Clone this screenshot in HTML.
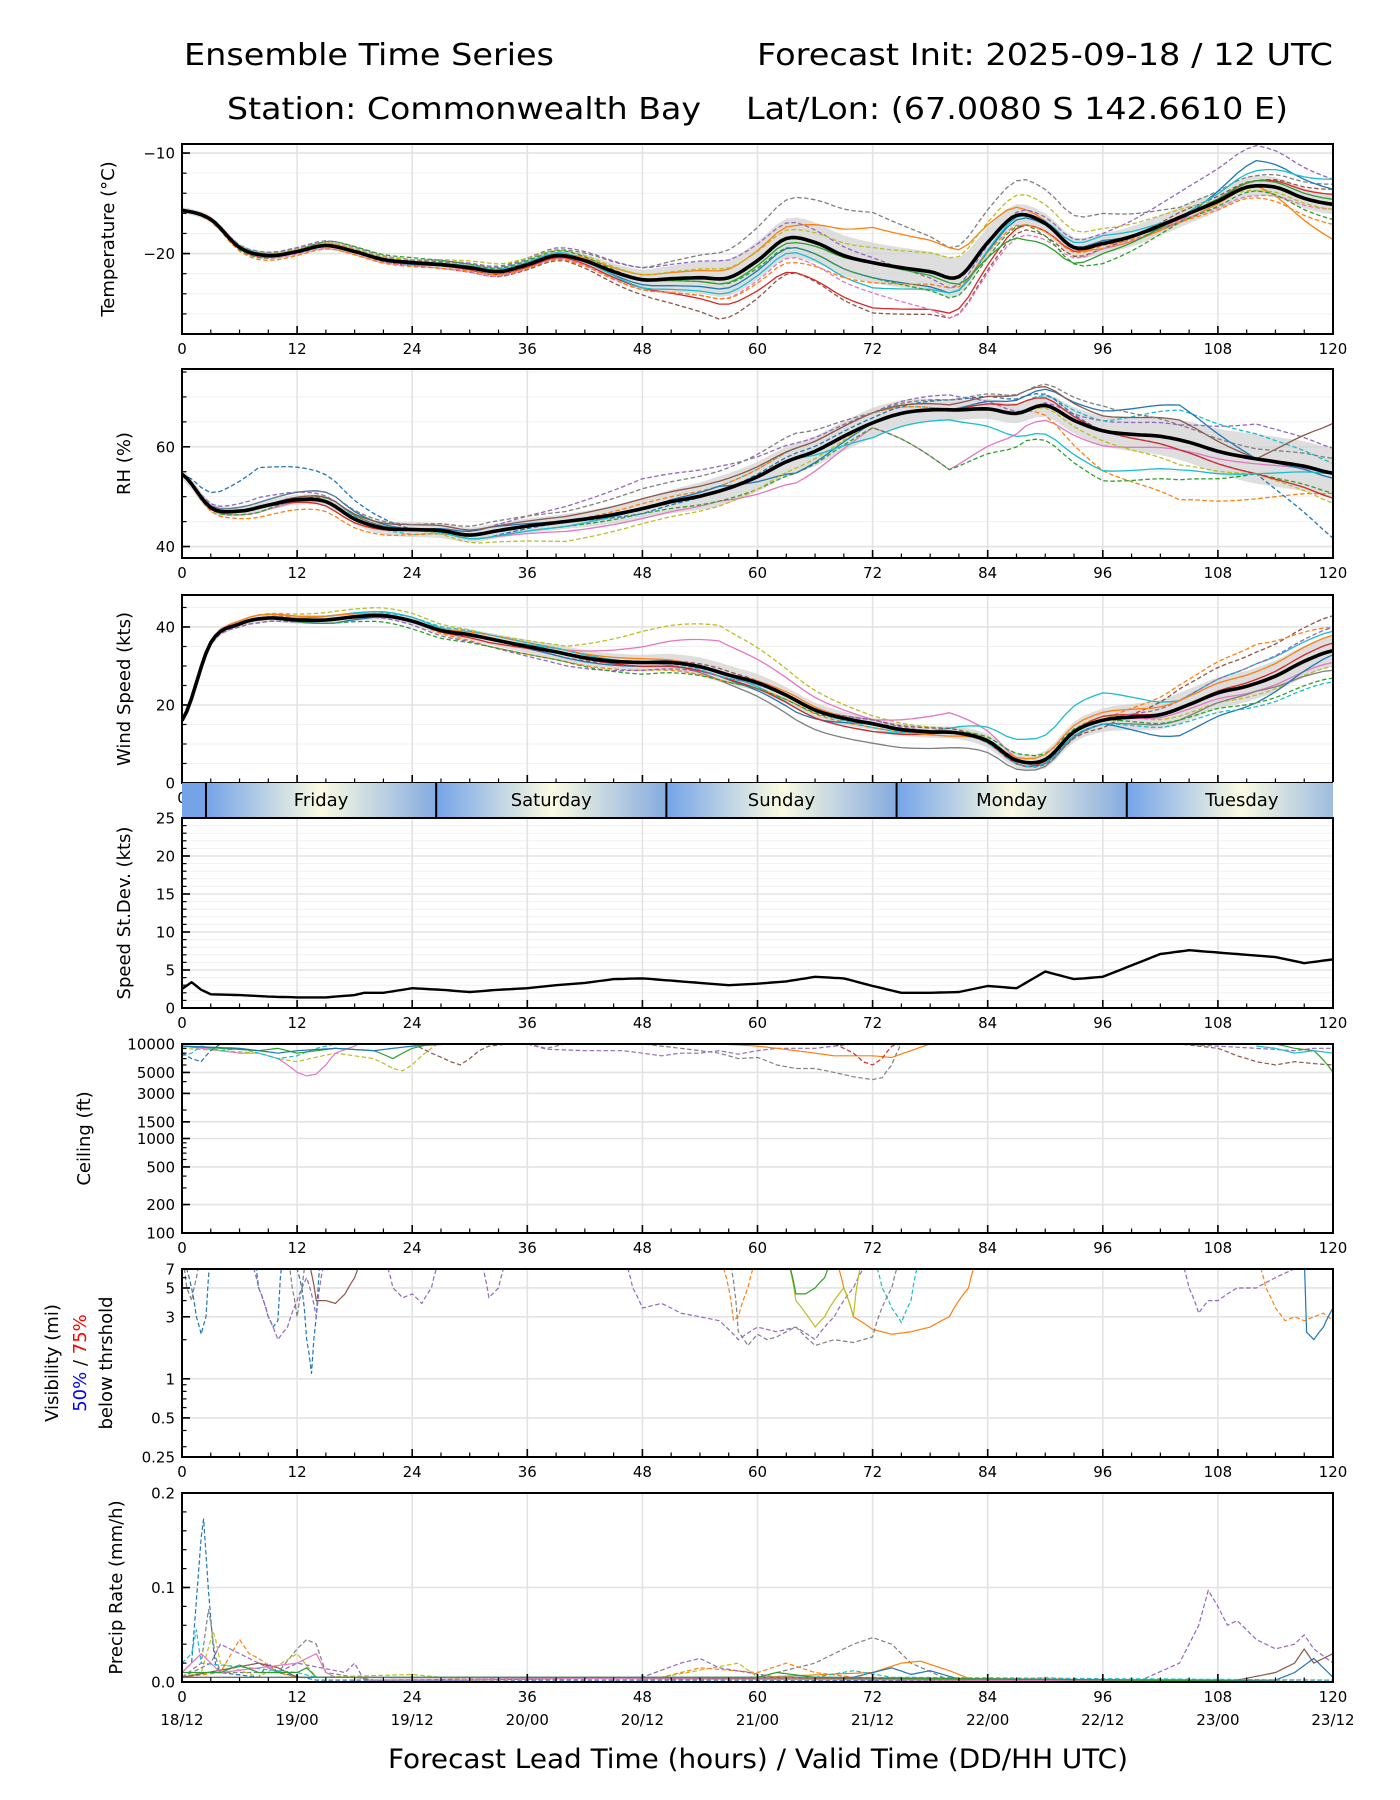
<!DOCTYPE html>
<html><head><meta charset="utf-8"><title>Ensemble Time Series</title>
<style>
html,body{margin:0;padding:0;background:#fff;}
svg{display:block;font-family:"DejaVu Sans","Liberation Sans",sans-serif;}
</style></head>
<body>
<svg id="chart" xmlns="http://www.w3.org/2000/svg" width="1400" height="1800" viewBox="0 0 1400 1800">
<defs>
<linearGradient id="dayGrad" x1="0" x2="1" y1="0" y2="0">
<stop offset="0" stop-color="#74a3e8"/><stop offset="0.5" stop-color="#fbfbe2"/><stop offset="1" stop-color="#85abe0"/>
</linearGradient>
</defs>
<text x="184" y="65" font-size="30" textLength="370" lengthAdjust="spacingAndGlyphs">Ensemble Time Series</text>
<text x="1333" y="65" font-size="30" text-anchor="end" textLength="576" lengthAdjust="spacingAndGlyphs">Forecast Init: 2025-09-18 / 12 UTC</text>
<text x="227" y="119" font-size="30" textLength="474" lengthAdjust="spacingAndGlyphs">Station: Commonwealth Bay</text>
<text x="746" y="119" font-size="30" textLength="542" lengthAdjust="spacingAndGlyphs">Lat/Lon: (67.0080 S 142.6610 E)</text>
<g id="plots"></g>
</svg>
<script>
// ---------- data ----------
const meanHoursStep = 3;
const memberHoursStep = 8;
const tempMean = [-15.7,-16.6,-19.4,-20.2,-19.8,-19.2,-19.8,-20.6,-20.9,-21.1,-21.4,-21.8,-21.1,-20.2,-20.7,-21.8,-22.6,-22.5,-22.4,-22.4,-20.7,-18.5,-18.9,-20.2,-20.9,-21.4,-21.8,-22.3,-18.9,-16.2,-17.0,-19.4,-19.0,-18.3,-17.2,-16.0,-14.8,-13.4,-13.4,-14.5,-15.1];
const tempSpread = [0.3,0.4,0.4,0.4,0.4,0.5,1,1.8,2,2,2,1,1,1,1,1];
const tempM1 = [0,0.3,0.3,0.2,0.4,0.6,1.2,2.6,4.0,5.0,3.0,3.5,3.0,1.0,1.0,2.0];
const tempM2 = [0,-0.3,0,-0.3,-0.5,-0.5,-1.5,-4.0,-3.5,-5.0,-4.0,-1.5,-0.5,0.5,0.5,1.5];
const tempM3 = [0,-0.2,0,0,-0.3,-0.2,-0.8,-2.5,-3.5,-4.5,-3.5,-1.0,0,-0.2,0.5,1.0];
const tempM4 = [0,0,0.2,0,0,0.2,0.5,0.8,1.2,3.5,3.0,0.5,-0.5,-0.5,0,-3.5];
const tempM5 = [0,0.3,0.5,0.3,0.5,0.8,1.2,1.8,1.5,0.5,-1.0,0.5,1.0,2.5,4.0,2.5];
const tempM6 = [0,0,0,-0.2,0,0,-0.5,-1.0,-1.0,-1.5,-1.5,-0.3,0.3,-0.5,2.5,1.5];
const tempM7 = [0,0.2,0,0.1,0.2,0.3,-0.8,-1.5,-1.5,-2.5,-1.5,0,0.8,0,1.5,2.5];
const tempM8 = [0,-0.2,-0.3,-0.3,-0.5,-0.3,-1.0,-2.0,-2.0,-3.0,-4.0,-2.0,-0.5,-0.3,-1.0,-0.5];
const tempM9 = [0,0.2,0.3,0.3,0.8,0.5,0.5,1.0,0.8,1.5,2.0,2.0,1.5,0.8,-0.5,-0.5];
const tempM10 = [0,-0.3,0.5,0.5,0.3,0.5,0,-0.5,-1.0,-1.5,-2.0,-1.0,-2.0,-0.5,-0.5,-1.5];
const tempM11 = [0,-0.5,-0.3,-0.4,-0.3,-0.4,-1.0,-2.0,-2.5,-2.0,-1.0,-1.0,-0.2,-0.5,-1.2,-2.0];
const tempM12 = [0,0,0,0,0,0,0,-0.5,-0.5,0,-0.5,-2.5,-1.0,0,0.5,0.5];

const rhMean = [54.5,47.8,47.1,48.3,49.4,49.0,45.5,43.7,43.4,43.2,42.3,43.2,44.1,44.8,45.5,46.4,47.6,49.0,50.1,51.7,54.0,57.0,59.1,62.1,64.8,66.7,67.4,67.4,67.6,66.7,68.3,65.3,63.2,62.5,62.1,60.9,59.1,57.9,57.0,56.1,54.7];
const rhSpread = [1,1,1,1.5,1.5,1.5,2,3,3,3,2,2,3,4,5,5];
const rhM1 = [0,2,1,0,1,3,6,5,3,2,3,0,2,3,7,5];
const rhM2 = [0,-1,0,0,-1,-2,-2,-2,-5,-1,-12,-3,-3,-2,-1,0];
const rhM3 = [0,-1,1,0,-1,-1,-1,-2,-3,-1,-12,-6,-10,-8,-3,-4];
const rhM4 = [0,0,1,-1,0,0,0,1,2,2,0,2,2,6,5,2];
const rhM5 = [0,-2,-2,-1,0,0,1,1,2,2,0,0,-8,-12,-8,-4];
const rhM6 = [0,8,5,0,-1,0,-1,0,1,1,2,3,0,-2,-3,-13];
const rhM7 = [0,1,2,0,1,0,0,1,-3,0,0,3,4,7,0,-1];
const rhM8 = [0,0,1,1,1,1,2,2,2,2,1,4,3,4,0,10];
const rhM9 = [0,0,0,0,-2,-4,-3,-3,-2,0,0,0,-2,-5,-3,-6];
const rhM10 = [0,0,-1,0,0,0,0,0,0,0,0,2,0,-2,-3,-5];
const rhM11 = [0,1,2,1,2,2,4,4,5,2,2,4,5,3,2,3];
const rhM12 = [0,0,0,0,-1,-1,0,0,0,-3,-2,-5,-8,-6,-3,0];

const windMean = [16.0,36.0,40.8,42.3,41.8,41.8,42.6,42.9,41.5,39.1,38.0,36.5,35.0,33.6,32.1,31.2,30.9,30.9,29.8,27.7,25.7,22.5,18.7,16.6,15.2,13.7,13.1,12.8,10.8,5.8,6.0,13.1,16.1,16.9,17.5,20.1,23.1,24.8,27.4,31.2,33.9];
const windSpread = [1,1,1,1,1.5,2,2,2.5,2,1.5,1.5,2,3,4,4,4];
const windM1 = [0,1,2,2,1,2,8,12,6,2,1,0,1,-2,-3,-4];
const windM2 = [0,1,1,1,0,1,4,8,4,1,5,0,0,-1,-2,-3];
const windM3 = [0,0,0,0,0,0,0,-2,-5,-5,-4,-2,-1,-3,-2,-5];
const windM4 = [0,0,1,1,0,1,0,0,-2,-2,1,6,7,2,5,5];
const windM5 = [0,-1,0,0,0,-1,0,1,0,1,1,-1,-2,5,8,9];
const windM6 = [0,1,0,0,-2,-2,-2,-2,-1,-1,0,0,0,6,10,6];
const windM7 = [0,0,-1,0,0,-1,-1,-1,-3,0,0,-1,-1,-7,-5,-1];
const windM8 = [0,0,0,0,-1,0,-1,-1,-2,-2,0,-1,1,0,1,2];
const windM9 = [0,-1,0,-1,-2,-3,-2,-1,0,1,0,0,0,2,5,6];
const windM10 = [0,0,-1,-2,-2,-2,-3,-2,-1,0,0,2,0,-3,-5,-7];
const windM11 = [0,1,1,0,1,1,1,0,1,0,-1,1,2,2,3,4];
const windM12 = [0,0,0,1,1,1,0,-1,0,-1,0,-1,-1,-4,-6,-8];

const stdHours = [0,1,2,3,6,9,12,15,18,19,21,24,27,30,33,36,39,42,45,48,51,54,57,60,63,66,69,72,75,78,81,84,87,90,93,96,99,102,105,108,111,114,117,120];
const stdVals = [2.5,3.4,2.4,1.8,1.7,1.5,1.4,1.4,1.7,2.0,2.0,2.6,2.4,2.1,2.4,2.6,3.0,3.3,3.8,3.9,3.6,3.3,3.0,3.2,3.5,4.1,3.9,2.9,2.0,2.0,2.1,2.9,2.6,4.8,3.8,4.1,5.6,7.1,7.6,7.3,7.0,6.7,5.9,6.4];

const dayNames = ["Friday","Saturday","Sunday","Monday","Tuesday"];
const dayStartHours = [2.5,26.5,50.5,74.5,98.5];

const ceilTicks = [100,200,500,1000,1500,3000,5000,10000];
const visTicks = [0.25,0.5,1,3,5,7];
const precipTicks = [0,0.1,0.2];
const xTicks = [0,12,24,36,48,60,72,84,96,108,120];
const validTimes = ["18/12","19/00","19/12","20/00","20/12","21/00","21/12","22/00","22/12","23/00","23/12"];

// ceiling members: hours / values (ft)
const ceilPinkH = [0,2,4,6,8,10,12,13,14,15,16,18,20];
const ceilPinkV = [9500,9000,8500,8000,8000,7000,5000,4600,4800,6000,8000,9500,12000];
const ceilOliveH = [0,4,8,10,12,16,20,22,23,24,26,28];
const ceilOliveV = [9000,8500,8000,7000,6500,8000,7000,5500,5200,6000,9000,12000];
const ceilCyanH = [0,1,2,3,4,6,8,10,12,14,16];
const ceilCyanV = [7500,8000,9500,9000,8500,9000,8000,7000,7500,9000,10000];
const ceilBlueDH = [0,1,2,3,4];
const ceilBlueDV = [8000,7000,6500,8500,10000];
const ceilBrownH = [24,26,28,29,30,31,32,34,36];
const ceilBrownV = [10000,8000,6500,6000,7000,8500,9500,10000,12000];
const ceilBrown2H = [100,104,108,110,112,114,116,118,120];
const ceilBrown2V = [10000,10000,9000,7500,6500,6000,6500,6200,6000];
const ceilGrayH = [36,38,40,48,52,56,58,60,62,64,66,68,70,72,73,74,75,76];
const ceilGrayV = [10000,9000,10000,10000,9000,8000,7000,7200,6000,5500,5500,5000,4500,4200,4400,6000,10000,12000];
const ceilPurpleH = [36,38,42,46,48,50,52,54,56,58,60,62,64,66,68,70];
const ceilPurpleV = [10000,8800,8500,8500,8000,7500,8000,8000,8500,7800,8500,9000,9000,9000,9500,10000];
const ceilPurple2H = [104,108,112,116,118,120];
const ceilPurple2V = [10000,9500,9000,8500,9000,9000];
const ceilOrangeH = [56,60,62,64,66,68,70,72,74,76,78,80];
const ceilOrangeV = [10000,9500,9000,8500,8000,7500,7500,7500,7200,8500,10000,10000];
const ceilRedH = [68,70,71,72,73,74,75];
const ceilRedV = [10000,8000,6500,6000,7000,9500,10000];
const ceilGreenH = [0,4,8,10,12,16,20,22,24,26];
const ceilGreenV = [9500,9000,8500,9000,8000,9000,8500,7000,9000,10000];
const ceilGreen2H = [114,116,118,120];
const ceilGreen2V = [10000,9000,8500,5000];
const ceilBlueH = [0,6,10,12,16,20,24,28];
const ceilBlueV = [9500,9000,8000,8500,9000,8500,9500,10000];
const ceilBlue2H = [112,114,116,118,120];
const ceilBlue2V = [9500,9000,8000,8500,8000];

// visibility members (mi)
const visBlueDH = [0,1,1.5,2,2.5,3,7.5,8,9,9.5,10,10.5,11.5,12.5,13,13.5,14,14.5];
const visBlueDV = [9,5,3,2.2,3,9,9,5,3,2.5,2.8,9,9,5,2,1.1,3,9];
const visPurple1H = [7,8,9,10,11,12,13,14,15];
const visPurple1V = [9,5,3,2,2.5,4,6,3,9];
const visPurple2H = [21,22,23,24,25,26,27,31,32,33,34];
const visPurple2V = [9,5,4.2,4.5,3.8,5,9,9,4.2,5,9];
const visPurple3H = [46,47,48,50,52,54,56,58,60,62,64,66,68,70,72];
const visPurple3V = [9,5,3.5,3.8,3.2,3.0,2.8,2.0,2.5,2.3,2.5,2.0,3,5,9];
const visPurple4H = [104,105,106,107,108,110,112,114,116,118];
const visPurple4V = [9,5,3.2,4,4,5,5,6,7,9];
const visOrangeH = [68,69,70,71,72,74,76,78,80,82,83];
const visOrangeV = [9,5,3,2.7,2.4,2.2,2.3,2.5,3,5,9];
const visOrangeD1H = [56,57,57.5,58,59,60,61];
const visOrangeD1V = [9,5,2.8,3,5,9,9];
const visOrangeD2H = [112,113,114,115,116,117,118,119,120];
const visOrangeD2V = [9,5,3.5,2.8,3,2.8,3,3.2,2.8];
const visOliveH = [63,64,65,66,67,68,69,70,71];
const visOliveV = [9,4,3.2,2.5,3,4,5,3,9];
const visGreenH = [63,64,65,66,67,68];
const visGreenV = [9,4.5,4.5,5,6,9];
const visCyanH = [72,73,74,75,76,77];
const visCyanV = [9,5,3.5,2.7,4,9];
const visBrownH = [13,14,15,16,17,18,19];
const visBrownV = [9,4,4,3.8,4.5,6,9];
const visBlueH = [117,117.2,118,119,120];
const visBlueV = [9,2.3,2,2.5,3.5];
const visGrayH = [56,57,58,59,60,61,62,63,64,65,66,68,70,72,74,75];
const visGrayV = [9,9,2.3,1.8,2.2,2,2.1,2.3,2.5,2.1,1.8,2.0,1.9,2.1,5,9];
const visGray2H = [0,0.5,1,1.5,2,11,11.5,12,12.5,13];
const visGray2V = [9,5,4,6,9,9,5,3,5,9];

// precip members (mm/h)
const prBlueDH = [0,1,1.6,2.2,2.8,3.4,4,8,9,10,14,60,120];
const prBlueDV = [0.01,0.02,0.1,0.18,0.09,0.02,0.01,0.005,0.02,0.01,0.002,0.002,0];
const prGrayH = [0,2,2.8,3.4,4,10,12,13,14,15,20,60,66,70,72,74,76,80,120];
const prGrayV = [0.005,0.02,0.08,0.03,0.01,0.01,0.035,0.045,0.04,0.01,0.002,0.005,0.02,0.04,0.047,0.04,0.02,0.002,0.002];
const prOliveH = [0,2,3.3,4,8,12,14,24,30,50,58,60,85,90,95,120];
const prOliveV = [0.005,0.01,0.055,0.02,0.005,0.03,0.005,0.008,0.002,0.005,0.02,0.005,0.001,0.005,0.001,0];
const prOrangeDH = [0,4,6,7,8,10,12,50,54,60,63,66,70,120];
const prOrangeDV = [0.005,0.01,0.045,0.03,0.025,0.01,0.005,0.005,0.015,0.01,0.02,0.01,0.005,0];
const prPurpleH = [0,3,4,10,12,17,18,19,30,48,52,54,56,62,100,104,106,107,108,109,110,112,114,116,117,118,120];
const prPurpleV = [0.005,0.02,0.04,0.01,0.02,0.01,0.02,0.002,0.002,0.005,0.02,0.025,0.015,0.005,0.002,0.02,0.06,0.097,0.08,0.06,0.065,0.045,0.035,0.04,0.05,0.035,0.02];
const prOrangeH = [0,60,72,75,77,80,83,120];
const prOrangeV = [0.005,0.005,0.01,0.02,0.022,0.012,0,0];
const prBrownH = [0,8,10,12,110,114,116,117,118,120];
const prBrownV = [0.005,0.02,0.015,0.005,0.002,0.01,0.02,0.035,0.02,0.03];
const prBlueH = [0,70,74,76,78,82,114,116,118,120];
const prBlueV = [0.005,0.005,0.015,0.008,0.012,0,0.002,0.01,0.025,0.005];
const prCyanH = [0,1,1.5,2,12,14,66,70,74,120];
const prCyanV = [0.02,0.03,0.055,0.02,0.01,0.005,0.005,0.012,0.005,0.002];
const prPinkH = [0,2,3,4,12,14,15,16,120];
const prPinkV = [0.01,0.03,0.02,0.01,0.02,0.03,0.01,0.005,0];
const prGreenH = [0,4,6,8,12,13,14,60,62,66,120];
const prGreenV = [0.01,0.01,0.018,0.01,0.01,0.015,0.005,0.005,0.01,0.005,0];

// ---------- rendering ----------
const NS = "http://www.w3.org/2000/svg";
const root = document.getElementById("plots");
const XL = 182, XR = 1333;
const X = h => XL + h / 120 * (XR - XL);
const C = {blue:"#1f77b4",orange:"#ff7f0e",green:"#2ca02c",red:"#d62728",purple:"#9467bd",brown:"#8c564b",pink:"#e377c2",gray:"#7f7f7f",olive:"#bcbd22",cyan:"#17becf"};

function el(tag, attrs, parent) {
  const e = document.createElementNS(NS, tag);
  for (const k in attrs) e.setAttribute(k, attrs[k]);
  (parent || root).appendChild(e);
  return e;
}
function catmull(arr, step, h) {
  const t = h / step; let i = Math.floor(t); if (i >= arr.length - 1) return arr[arr.length - 1];
  const f = t - i;
  const p0 = arr[Math.max(i - 1, 0)], p1 = arr[i], p2 = arr[i + 1], p3 = arr[Math.min(i + 2, arr.length - 1)];
  return 0.5 * ((2 * p1) + (-p0 + p2) * f + (2 * p0 - 5 * p1 + 4 * p2 - p3) * f * f + (-p0 + 3 * p1 - 3 * p2 + p3) * f * f * f);
}
function lerpArr(arr, step, h) {
  const t = h / step; let i = Math.floor(t); if (i >= arr.length - 1) return arr[arr.length - 1];
  const f = t - i; return arr[i] * (1 - f) + arr[i + 1] * f;
}
function lerpXY(hs, vs, h) {
  for (let i = 0; i < hs.length - 1; i++) if (h >= hs[i] && h <= hs[i + 1]) { const f = (h - hs[i]) / (hs[i + 1] - hs[i]); return vs[i] * (1 - f) + vs[i + 1] * f; }
  return null;
}
function pathFrom(pts) { return pts.map((p, i) => (i ? "L" : "M") + p[0].toFixed(1) + "," + p[1].toFixed(1)).join(""); }

let clipId = 0;
function makePanel(name, top, bot, yOf, yMajor, yMinor, yLabelFn, minorGrid) {
  const g = el("g", {});
  
  
  const cid = "clip" + (clipId++);
  const cp = el("clipPath", {id: cid}, g);
  el("rect", {x: XL, y: top, width: XR - XL, height: bot - top}, cp);
  if (minorGrid) yMinor.forEach(v => { const y = yOf(v); if (y > top && y < bot) el("line", {x1: XL, x2: XR, y1: y, y2: y, stroke: "#f1f1f1", "stroke-width": 1}, g); });
  yMajor.forEach(v => { const y = yOf(v); el("line", {x1: XL, x2: XR, y1: y, y2: y, stroke: "#e3e3e3", "stroke-width": 1.6}, g); });
  for (let h = 12; h < 120; h += 12) el("line", {x1: X(h), x2: X(h), y1: top, y2: bot, stroke: "#e3e3e3", "stroke-width": 1.6}, g);
  const data = el("g", {"clip-path": "url(#" + cid + ")"}, g);
  
  
  for (let h = 0; h <= 120; h += 3) { const big = h % 12 === 0; el("line", {x1: X(h), x2: X(h), y1: bot, y2: bot - (big ? 8 : 4.5), stroke: "#000", "stroke-width": big ? 1.6 : 1.2}, g); }
  xTicks.forEach(h => {
    const t = el("text", {x: X(h), y: bot + 20, "font-size": 15, "text-anchor": "middle"}, g); t.textContent = h;
    
    
  });
  yMinor.forEach(v => { const y = yOf(v); if (y >= top - 0.5 && y <= bot + 0.5) el("line", {x1: XL, x2: XL + 4.5, y1: y, y2: y, stroke: "#000", "stroke-width": 1.2}, g); });
  yMajor.forEach(v => {
    const y = yOf(v); el("line", {x1: XL, x2: XL + 8, y1: y, y2: y, stroke: "#000", "stroke-width": 1.6}, g);
    const t = el("text", {x: XL - 7, y: y + 5.5, "font-size": 15, "text-anchor": "end"}, g); t.textContent = yLabelFn(v);
    
    
  });
  const fr = el("rect", {x: XL, y: top, width: XR - XL, height: bot - top, fill: "none", stroke: "#000", "stroke-width": 2}, g);
  
  
  return data;
}
function yLabel(text, x, cy, parent, name) {
  const t = el("text", {x: 0, y: 0, "font-size": 18, "text-anchor": "middle", transform: "translate(" + x + "," + cy + ") rotate(-90)"}, parent);
  t.textContent = text;
  
  
  return t;
}
function drawLine(g, pts, color, dashed, width, name) {
  const p = el("path", {d: pathFrom(pts), fill: "none", stroke: color, "stroke-width": width || 1.3, "stroke-linejoin": "round"}, g);
  if (dashed) p.setAttribute("stroke-dasharray", "4.5,2.5");
  
  
  return p;
}
function range(a, b, s) { const r = []; for (let v = a; v <= b + 1e-9; v += s) r.push(+v.toFixed(4)); return r; }
const minus = v => (v < 0 ? "\u2212" + Math.abs(v) : String(v));

function ensemblePanel(name, top, bot, ymin, ymax, yMajor, yMinor, mean, spread, members, label, labelX) {
  const yOf = v => bot - (v - ymin) / (ymax - ymin) * (bot - top);
  const g = makePanel(name, top, bot, yOf, yMajor, yMinor, minus, true);
  const up = [], lo = [];
  for (let h = 0; h <= 120; h += 1) { const m = catmull(mean, meanHoursStep, h), s = lerpArr(spread, memberHoursStep, h); up.push([X(h), yOf(m + s)]); lo.push([X(h), yOf(m - s)]); }
  const band = el("path", {d: pathFrom(up.concat(lo.reverse())) + "Z", fill: "#d0d0d0", "fill-opacity": 0.7}, g);
  
  
  members.forEach((m, i) => {
    const pts = [];
    for (let h = 0; h <= 120; h += 1) pts.push([X(h), yOf(catmull(mean, meanHoursStep, h) + lerpArr(m[0], memberHoursStep, h))]);
    drawLine(g, pts, m[1], m[2], 1.3, name + "-member-" + (i + 1));
  });
  const mp = [];
  for (let h = 0; h <= 120; h += 0.5) mp.push([X(h), yOf(catmull(mean, meanHoursStep, h))]);
  drawLine(g, mp, "#000", false, 3.6, name + "-ensemble-mean");
  yLabel(label, labelX, (top + bot) / 2, root, name + "-y-axis-title");
}

ensemblePanel("temperature", 144, 334, -28, -9.1, [-10, -20], range(-28, -10, 2),
  tempMean, tempSpread,
  [[tempM1, C.gray, true], [tempM2, C.brown, true], [tempM3, C.red, false], [tempM4, C.orange, false], [tempM5, C.purple, true], [tempM6, C.blue, false],
   [tempM7, C.cyan, false], [tempM8, C.pink, true], [tempM9, C.olive, true], [tempM10, C.green, true], [tempM11, C.orange, true], [tempM12, C.green, false]],
  "Temperature (\u00B0C)", 114);

ensemblePanel("rh", 369, 558, 37.7, 75.6, [40, 60], range(40, 75, 5),
  rhMean, rhSpread,
  [[rhM1, C.purple, true], [rhM2, C.pink, false], [rhM3, C.green, true], [rhM4, C.cyan, true], [rhM5, C.orange, true], [rhM6, C.blue, true],
   [rhM7, C.blue, false], [rhM8, C.brown, false], [rhM9, C.olive, true], [rhM10, C.red, false], [rhM11, C.gray, true], [rhM12, C.cyan, false]],
  "RH (%)", 130);

ensemblePanel("wind", 595, 783, 0, 48.2, [0, 20, 40], range(0, 45, 5),
  windMean, windSpread,
  [[windM1, C.olive, true], [windM2, C.pink, false], [windM3, C.gray, false], [windM4, C.cyan, false], [windM5, C.brown, true], [windM6, C.orange, true],
   [windM7, C.blue, false], [windM8, C.red, false], [windM9, C.purple, true], [windM10, C.green, true], [windM11, C.orange, false], [windM12, C.cyan, true]],
  "Wind Speed (kts)", 130);

// day bar
(function () {
  const top = 783, bot = 818;
  const g = el("g", {});
  
  
  el("rect", {x: XL, y: top, width: X(dayStartHours[0]) - XL, height: bot - top, fill: "#74a3e8"}, g);
  dayStartHours.forEach((h0) => {
    const x0 = X(h0);
    el("rect", {x: x0, y: top, width: X(h0 + 24) - x0, height: bot - top, fill: "url(#dayGrad)"}, g);
  });
  el("rect", {x: XR, y: top - 1, width: 67, height: bot - top + 2, fill: "#fff"}, g);
  dayStartHours.forEach((h0, i) => {
    const ln = el("line", {x1: X(h0), x2: X(h0), y1: top, y2: bot, stroke: "#000", "stroke-width": 2}, g);
    
    
    const t = el("text", {x: X(h0 + 12), y: top + 23, "font-size": 18, "text-anchor": "middle"}, g);
    t.textContent = dayNames[i];
    
    
  });
})();

// std dev
(function () {
  const top = 818, bot = 1008, ymax = 25;
  const yOf = v => bot - v / ymax * (bot - top);
  const g = makePanel("speed-stddev", top, bot, yOf, range(0, 25, 5), range(0, 25, 1), String, true);
  const pts = [];
  for (let h = 0; h <= 120; h += 0.5) pts.push([X(h), yOf(lerpXY(stdHours, stdVals, h))]);
  drawLine(g, pts, "#000", false, 2.4, "speed-stddev-line");
  yLabel("Speed St.Dev. (kts)", 130, (top + bot) / 2, root, "speed-stddev-y-axis-title");
})();

function sparsePanel(name, top, bot, yOf, ticks, minor, lblFn, members) {
  const g = makePanel(name, top, bot, yOf, ticks, minor, lblFn, false);
  members.forEach((m, i) => {
    const hs = m[0], vs = m[1], pts = [];
    const h0 = hs[0], h1 = hs[hs.length - 1];
    for (let h = h0; h <= h1 + 1e-9; h += 0.25) { const v = lerpXY(hs, vs, Math.min(h, h1)); pts.push([X(h), yOf(v)]); }
    drawLine(g, pts, m[2], m[3], 1.2, name + "-member-" + (i + 1));
  });
  return g;
}

// ceiling
(function () {
  const top = 1044, bot = 1233;
  const lmin = 2, lmax = 4;
  const yOf = v => bot - (Math.log10(v) - lmin) / (lmax - lmin) * (bot - top);
  const minor = [];
  [100, 1000].forEach(d => { for (let k = 1; k <= 9; k++) minor.push(d * k); });
  minor.push(10000);
  sparsePanel("ceiling", top, bot, yOf, ceilTicks, minor, String, [
    [ceilPinkH, ceilPinkV, C.pink, false], [ceilOliveH, ceilOliveV, C.olive, true], [ceilCyanH, ceilCyanV, C.cyan, true], [ceilBlueDH, ceilBlueDV, C.blue, true],
    [ceilBrownH, ceilBrownV, C.brown, true], [ceilBrown2H, ceilBrown2V, C.brown, true], [ceilGrayH, ceilGrayV, C.gray, true], [ceilPurpleH, ceilPurpleV, C.purple, true],
    [ceilPurple2H, ceilPurple2V, C.purple, true], [ceilOrangeH, ceilOrangeV, C.orange, false], [ceilRedH, ceilRedV, C.red, true], [ceilGreenH, ceilGreenV, C.green, false],
    [ceilGreen2H, ceilGreen2V, C.green, false], [ceilBlueH, ceilBlueV, C.blue, false], [ceilBlue2H, ceilBlue2V, C.cyan, false]]);
  yLabel("Ceiling (ft)", 90, (top + bot) / 2, root, "ceiling-y-axis-title");
})();

// visibility
(function () {
  const top = 1269, bot = 1457;
  const lmin = Math.log10(0.25), lmax = Math.log10(7);
  const yOf = v => bot - (Math.log10(v) - lmin) / (lmax - lmin) * (bot - top);
  const minor = [0.3, 0.4, 0.6, 0.7, 0.8, 0.9, 2, 4, 6];
  sparsePanel("visibility", top, bot, yOf, visTicks, minor, String, [
    [visBlueDH, visBlueDV, C.blue, true], [visPurple1H, visPurple1V, C.purple, true], [visPurple2H, visPurple2V, C.purple, true], [visPurple3H, visPurple3V, C.purple, true],
    [visPurple4H, visPurple4V, C.purple, true], [visOrangeH, visOrangeV, C.orange, false], [visOrangeD1H, visOrangeD1V, C.orange, true], [visOrangeD2H, visOrangeD2V, C.orange, true],
    [visOliveH, visOliveV, C.olive, false], [visGreenH, visGreenV, C.green, false], [visCyanH, visCyanV, C.cyan, true], [visBrownH, visBrownV, C.brown, false],
    [visBlueH, visBlueV, C.blue, false], [visGrayH, visGrayV, C.gray, true], [visGray2H, visGray2V, C.gray, true]]);
  const cy = (top + bot) / 2;
  yLabel("Visibility (mi)", 58, cy, root, "visibility-y-axis-title");
  const t = el("text", {x: 0, y: 0, "font-size": 18, "text-anchor": "middle", transform: "translate(86," + cy + ") rotate(-90)"});
  
  
  const s1 = el("tspan", {fill: "#0000ff"}, t); s1.textContent = "50%";
  const s2 = el("tspan", {fill: "#000"}, t); s2.textContent = " / ";
  const s3 = el("tspan", {fill: "#ff0000"}, t); s3.textContent = "75%";
  yLabel("below thrshold", 112, cy, root, "visibility-y-axis-subtitle");
})();

// precip
(function () {
  const top = 1493, bot = 1682, ymax = 0.2;
  const yOf = v => bot - v / ymax * (bot - top);
  sparsePanel("precip", top, bot, yOf, precipTicks, range(0, 0.2, 0.02), v => v.toFixed(1), [
    [prBlueDH, prBlueDV, C.blue, true], [prGrayH, prGrayV, C.gray, true], [prOliveH, prOliveV, C.olive, true], [prOrangeDH, prOrangeDV, C.orange, true],
    [prPurpleH, prPurpleV, C.purple, true], [prOrangeH, prOrangeV, C.orange, false], [prBrownH, prBrownV, C.brown, false], [prBlueH, prBlueV, C.blue, false],
    [prCyanH, prCyanV, C.cyan, true], [prPinkH, prPinkV, C.pink, false], [prGreenH, prGreenV, C.green, false]]);
  yLabel("Precip Rate (mm/h)", 122, (top + bot) / 2, root, "precip-y-axis-title");
  xTicks.forEach((h, i) => {
    const t = el("text", {x: X(h), y: bot + 43, "font-size": 15, "text-anchor": "middle"}); t.textContent = validTimes[i];
    
    
  });
  const xl = el("text", {x: 758, y: 1768, "font-size": 27, "text-anchor": "middle", textLength: 740, lengthAdjust: "spacingAndGlyphs"});
  xl.textContent = "Forecast Lead Time (hours) / Valid Time (DD/HH UTC)";
  
  
})();
</script>
</body></html>
